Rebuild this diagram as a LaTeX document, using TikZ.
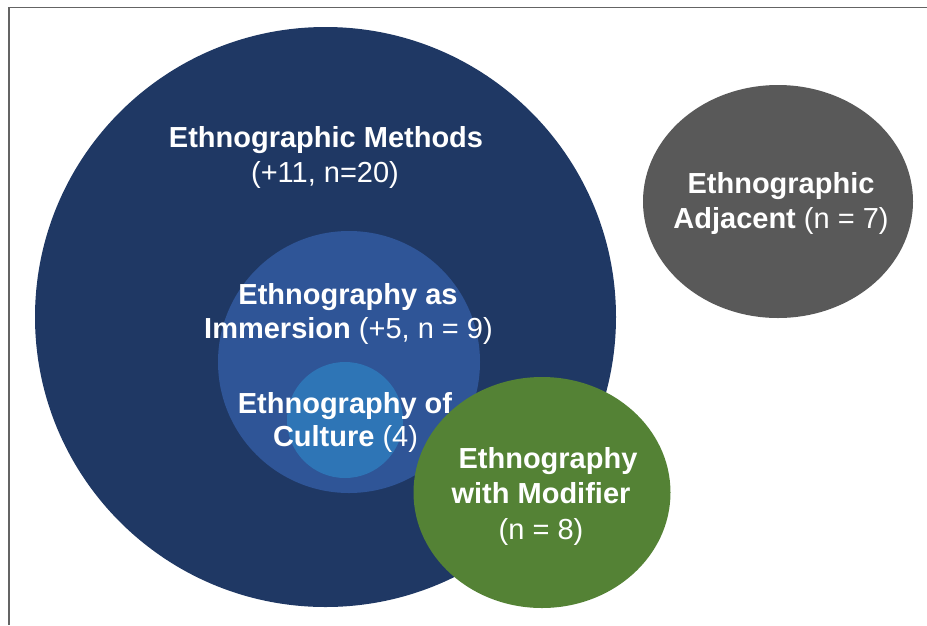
\documentclass[tikz,border=0pt]{standalone}
\usepackage{fontspec}
\setmainfont{Liberation Sans}
\usetikzlibrary{shapes.geometric}
\definecolor{navy}{HTML}{1F3864}
\definecolor{midblue}{HTML}{2F5597}
\definecolor{lightblue}{HTML}{2E75B6}
\definecolor{leafgreen}{HTML}{548235}
\definecolor{slate}{HTML}{595959}
\definecolor{framegray}{HTML}{646464}
\begin{document}
\begin{tikzpicture}[x=1pt,y=-1pt,
  blob/.style={ellipse, draw=none, inner sep=0pt, outer sep=0pt},
  lbl/.style={anchor=base, text=white, inner sep=0pt,
              font=\fontsize{29}{35}\selectfont}]
\useasboundingbox (0,0) rectangle (927,625);
% frame edges
\draw[framegray, line width=1.8pt] (9,625) -- (9,7.5) -- (927,7.5);

% nested circles
\node[blob, fill=navy, minimum width=581pt, minimum height=580pt] (methods) at (325.5,317) {};
\node[blob, fill=midblue, minimum width=262pt, minimum height=262pt] (immersion) at (349,362) {};
\node[blob, fill=lightblue, minimum width=116pt, minimum height=116pt] (culture) at (345,420) {};
% separate groups
\node[blob, fill=leafgreen, minimum width=257pt, minimum height=231pt] (modifier) at (542,492.5) {};
\node[blob, fill=slate, minimum width=270pt, minimum height=233pt] (adjacent) at (778,201.5) {};

% labels
\node[lbl] (m1) at (326,147) {\textbf{Ethnographic Methods}};
\node[lbl] (m2) at (325,182) {(+11, n=20)};
\node[lbl] (i1) at (348,304) {\textbf{Ethnography as}};
\node[lbl] (i2) at (348.5,338) {\textbf{Immersion} (+5, n = 9)};
\node[lbl] (c1) at (345,413) {\textbf{Ethnography of}};
\node[lbl] (c2) at (345.5,446) {\textbf{Culture} (4)};
\node[lbl] (w1) at (548,468) {\textbf{Ethnography}};
\node[lbl] (w2) at (541,503) {\textbf{with Modifier}};
\node[lbl] (w3) at (541,539) {(n = 8)};
\node[lbl] (a1) at (781,193) {\textbf{Ethnographic}};
\node[lbl] (a2) at (781,228) {\textbf{Adjacent} (n = 7)};
\end{tikzpicture}
\end{document}
